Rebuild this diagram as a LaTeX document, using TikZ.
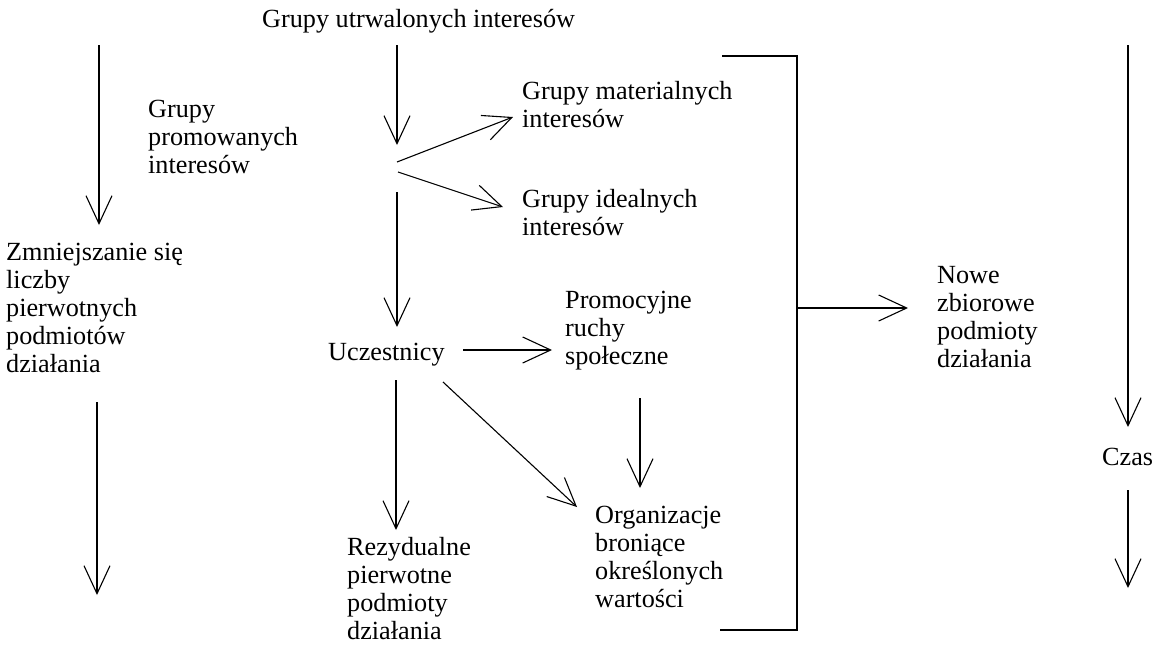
\documentclass[tikz,border=0pt]{standalone}
\usepackage{fontspec}
\setmainfont{Liberation Serif}
\usetikzlibrary{arrows.meta}
\newcommand{\mlines}[1]{\begin{tabular}[t]{@{}l@{}}#1\end{tabular}}
\tikzset{
  lbl/.style={anchor=base west, inner sep=0pt, font=\fontsize{26.2}{28.2}\selectfont},
  arr/.style={line width=1.1pt, -{Straight Barb[length=28pt,width=26pt,line width=1.1pt]}},
  ln/.style={line width=1.1pt}
}
\begin{document}
\begin{tikzpicture}[x=1pt,y=-1pt]
\useasboundingbox (0,0) rectangle (1160,646);
% texts
\node[lbl] (utrw) at (262,27) {Grupy utrwalonych interesów};
\node[lbl] (prom) at (148,117) {\mlines{Grupy\\promowanych\\interesów}};
\node[lbl] (zmn) at (6,260) {\mlines{Zmniejszanie się\\liczby\\pierwotnych\\podmiotów\\działania}};
\node[lbl] (mat) at (522,99) {\mlines{Grupy materialnych\\interesów}};
\node[lbl] (ide) at (522,207) {\mlines{Grupy idealnych\\interesów}};
\node[lbl] (ucz) at (328,360) {Uczestnicy};
\node[lbl] (ruchy) at (565,308) {\mlines{Promocyjne\\ruchy\\społeczne}};
\node[lbl] (rez) at (347,555) {\mlines{Rezydualne\\pierwotne\\podmioty\\działania}};
\node[lbl] (org) at (595,523) {\mlines{Organizacje\\broniące\\określonych\\wartości}};
\node[lbl] (nowe) at (937,283) {\mlines{Nowe\\zbiorowe\\podmioty\\działania}};
\node[lbl] (czas) at (1102,465) {Czas};
% coordinates
\coordinate (L1a) at (99,45);
\coordinate (L1b) at (99,225);
\coordinate (L2a) at (97,402);
\coordinate (L2b) at (97,595);
\coordinate (C1a) at (397,45);
\coordinate (hub) at (397,145);
\coordinate (hubA) at (397,162);
\coordinate (hubB) at (398,172);
\coordinate (hubC) at (397,192);
\coordinate (matE) at (513,117);
\coordinate (ideE) at (503,207);
\coordinate (uczN) at (397,327);
\coordinate (uczE) at (463,350);
\coordinate (ruchW) at (552,350);
\coordinate (uczS) at (396,380);
\coordinate (rezN) at (396,530);
\coordinate (uczSE) at (443,382);
\coordinate (orgNW) at (577,507);
\coordinate (ruchS) at (640,398);
\coordinate (orgN) at (640,488);
\coordinate (brT) at (722,56);
\coordinate (brTR) at (797,56);
\coordinate (brBR) at (797,630);
\coordinate (brB) at (720,630);
\coordinate (brM) at (797,308);
\coordinate (noweW) at (908,308);
\coordinate (R1a) at (1128,45);
\coordinate (R1b) at (1128,427);
\coordinate (R2a) at (1128,490);
\coordinate (R2b) at (1128,588);
% connectors
\draw[arr] (L1a) -- (L1b);
\draw[arr] (L2a) -- (L2b);
\draw[arr] (C1a) -- (hub);
\draw[arr] (hubA) -- (matE);
\draw[arr] (hubB) -- (ideE);
\draw[arr] (hubC) -- (uczN);
\draw[arr] (uczE) -- (ruchW);
\draw[arr] (uczS) -- (rezN);
\draw[arr] (uczSE) -- (orgNW);
\draw[arr] (ruchS) -- (orgN);
\draw[ln] (brT) -- (brTR) -- (brBR) -- (brB);
\draw[arr] (brM) -- (noweW);
\draw[arr] (R1a) -- (R1b);
\draw[arr] (R2a) -- (R2b);
\end{tikzpicture}
\end{document}
